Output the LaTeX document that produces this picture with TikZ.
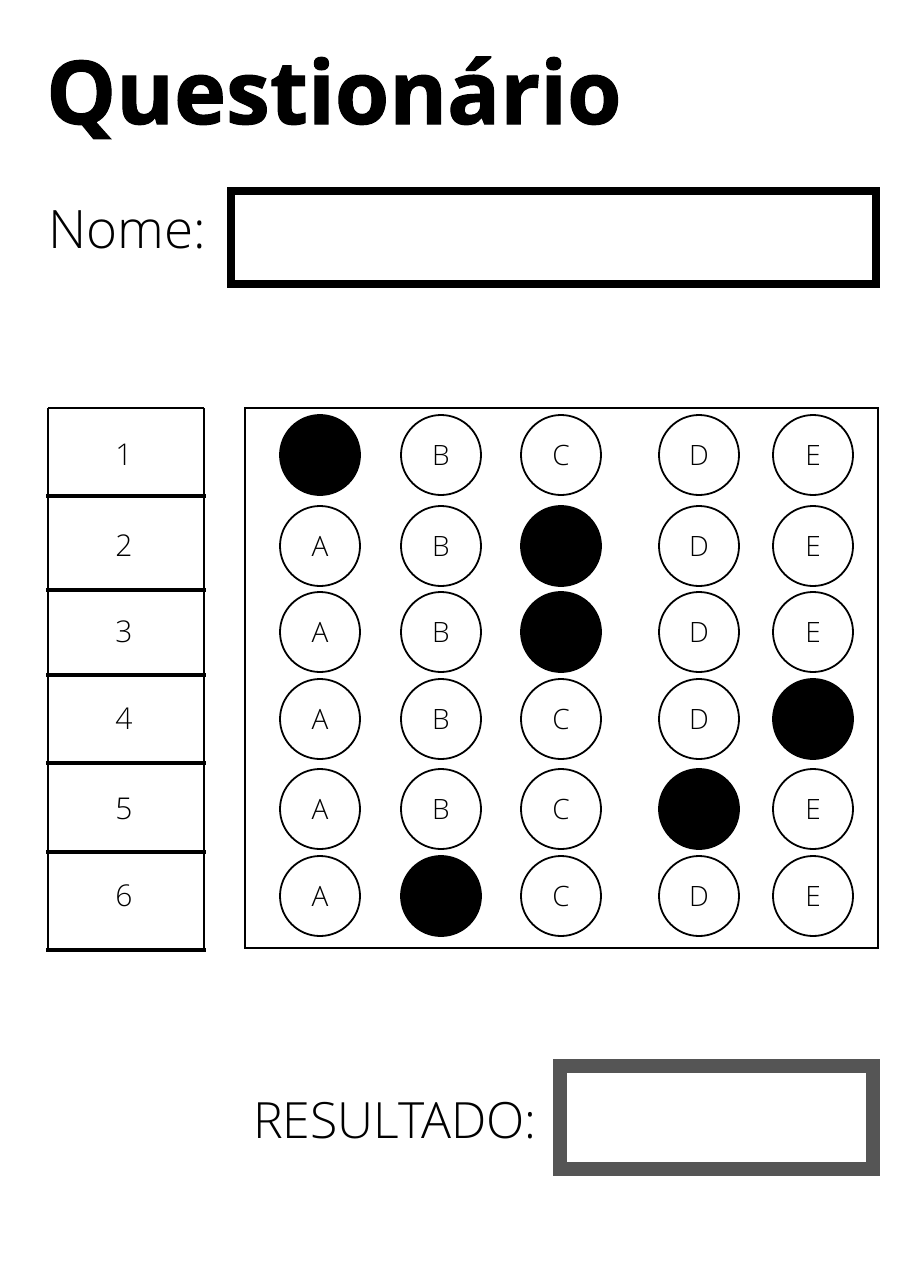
\documentclass[tikz,border=0pt]{standalone}
\usepackage{fontspec}
\setmainfont{Open Sans}[UprightFont={* Light},BoldFont={* Bold},BoldFeatures={FakeBold=1.2}]
\definecolor{boxgray}{RGB}{85,85,85}
\begin{document}
\begin{tikzpicture}[x=1pt,y=-1pt,
  bubble/.style={draw,circle,minimum size=80pt,line width=1.8pt,inner sep=0pt,font=\fontsize{28}{28}\selectfont},
  marked/.style={bubble,fill=black},
  numtext/.style={font=\fontsize{30}{30}\selectfont},
  field/.style={draw,inner sep=0pt}]
  \useasboundingbox (0,0) rectangle (904,1280);
  % Title and name field
  \node[anchor=base west,inner sep=0pt,font=\fontsize{88}{88}\selectfont\bfseries] (title) at (46,124) {Questionário};
  \node[anchor=base west,inner sep=0pt,font=\fontsize{53}{53}\selectfont] (nome) at (48,248) {Nome:};
  \node[field,line width=8pt,minimum width=645pt,minimum height=93pt] (namebox) at (553.5,237.5) {};
  % Number column
  \draw[line width=1.5pt] (48,408) -- (204,408);
  \draw[line width=2.5pt] (48,408) -- (48,950) (204,408) -- (204,950);
  \foreach \y in {496,590,675,763,852,950}
    \draw[line width=4.5pt] (46,\y) -- (206,\y);
  % Answer grid
  \draw[line width=2pt] (245,408) rectangle (878,948);
  \foreach \r/\y/\m in {1/455/1,2/546/3,3/632/3,4/719/5,5/809/4,6/896/2}{
    \node[numtext] (n\r) at (124,\y) {\r};
    \foreach \c/\x/\l in {1/320/A,2/441/B,3/561/C,4/699/D,5/813/E}{
      \ifnum\c=\m
        \node[marked] (q\r\l) at (\x,\y) {};
      \else
        \node[bubble] (q\r\l) at (\x,\y) {\l};
      \fi
    }
  }
  % Result field
  \node[anchor=base west,inner sep=0pt,font=\fontsize{50}{50}\selectfont] (result) at (253,1138) {RESULTADO:};
  \node[field,draw=boxgray,line width=14pt,minimum width=313pt,minimum height=103pt] (resbox) at (716.5,1117.5) {};
\end{tikzpicture}
\end{document}
